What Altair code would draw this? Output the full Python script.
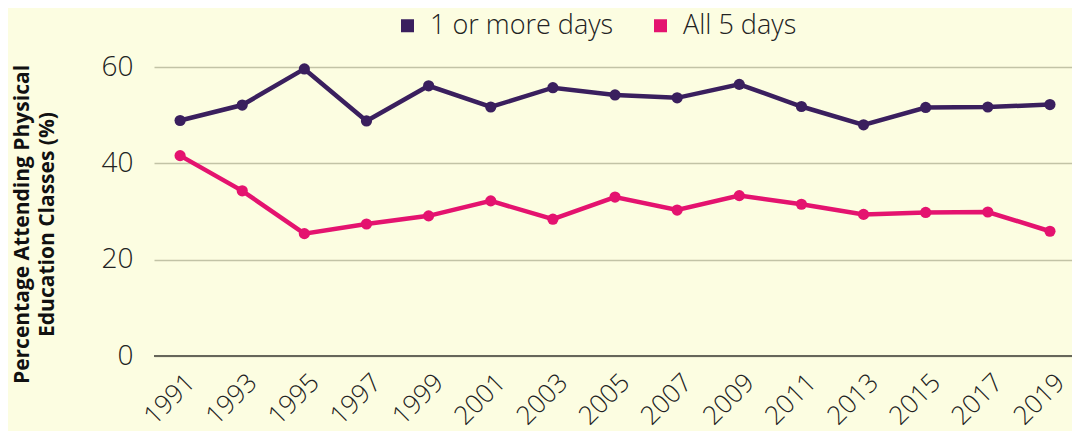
import altair as alt
import pandas as pd

years = [1991, 1993, 1995, 1997, 1999, 2001, 2003, 2005, 2007, 2009, 2011, 2013, 2015, 2017, 2019]
one_plus = [48.9, 52.1, 59.6, 48.8, 56.1, 51.7, 55.7, 54.2, 53.6, 56.4, 51.8, 48.0, 51.6, 51.7, 52.2]
all_five = [41.6, 34.3, 25.4, 27.4, 29.1, 32.2, 28.4, 33.0, 30.3, 33.3, 31.5, 29.4, 29.8, 29.9, 25.9]
series_names = ["1 or more days", "All 5 days"]
series_colors = ["#3a1f5e", "#e4136f"]
y_ticks = [0, 20, 40, 60]

rows = []
for y, a, b in zip(years, one_plus, all_five):
    rows.append({"year": y, "value": a, "series": series_names[0]})
    rows.append({"year": y, "value": b, "series": series_names[1]})
df = pd.DataFrame(rows)

FONT = "Open Sans"

x = alt.X("year:Q",
          scale=alt.Scale(domain=[1990.16, 2019.71], nice=False, zero=False),
          axis=alt.Axis(values=years, format="d", labelAngle=-45, labelFontSize=26,
                        labelFont=FONT, labelFontWeight=300, labelColor="#222222",
                        grid=False, domain=False, ticks=False, labelPadding=13, labelOffset=1,
                        labelOverlap=False, title=None, labelFlush=False))
y = alt.Y("value:Q",
          scale=alt.Scale(domain=[0, 60], nice=False),
          axis=alt.Axis(values=y_ticks, labelFontSize=28, labelFont=FONT, labelFontWeight=300,
                        labelColor="#222222", grid=True, gridColor="#c2c3a6", gridWidth=1.5,
                        domain=False, ticks=False, labelPadding=21,
                        title=["Percentage Attending Physical", "Education Classes (%)"],
                        titleFont=FONT, titleFontSize=21, titleFontWeight="bold",
                        titleColor="#111111", titlePadding=44, titleLineHeight=25,
                        titleY=157))
color = alt.Color("series:N",
                  scale=alt.Scale(domain=series_names, range=series_colors),
                  legend=alt.Legend(title=None, orient="none", direction="horizontal",
                                    legendX=240, legendY=-55, symbolType="square",
                                    symbolSize=169, symbolOpacity=1, labelFontSize=27,
                                    labelFont=FONT, labelFontWeight=300, labelColor="#222222",
                                    labelLimit=400, columnPadding=33, symbolStrokeWidth=0,
                                    labelOffset=9))

base = alt.Chart(df)
lines = base.mark_line(strokeWidth=4.5).encode(x=x, y=y, color=color)
points = base.mark_circle(size=125, opacity=1).encode(x=x, y=y, color=color)
zero = alt.Chart(pd.DataFrame({"v": [0]})).mark_rule(color="#66665a", strokeWidth=2).encode(y="v:Q")

chart = alt.layer(zero, lines, points).properties(
    width=918, height=289,
    autosize=alt.AutoSizeParams(type="none"),
    padding={"left": 146, "top": 59, "right": 0, "bottom": 75},
    background="#fcfde1",
).configure_view(stroke=None)

chart.save("out.html", embed_options={"renderer": "svg", "actions": False})
